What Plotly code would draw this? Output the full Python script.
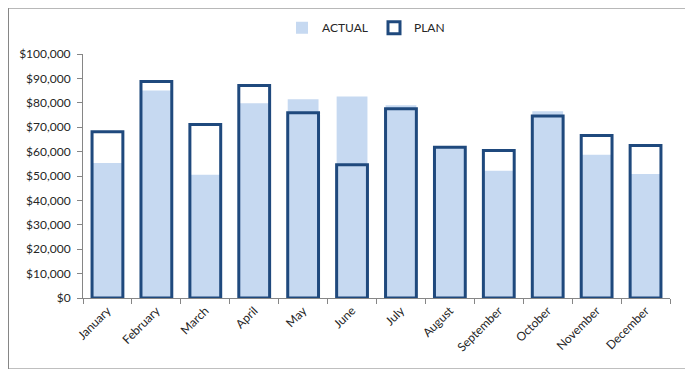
import plotly.graph_objects as go

months = ["January", "February", "March", "April", "May", "June", "July",
          "August", "September", "October", "November", "December"]
actual = [55300, 85000, 50500, 79800, 81500, 82600, 79000, 61500, 52200, 76500, 58700, 50800]
plan = [68100, 88700, 71100, 87100, 75900, 54600, 77600, 61800, 60400, 74600, 66600, 62500]
y_ticks = list(range(0, 100001, 10000))

# page has an 8px body margin; coordinates below are inside the figure
W, H = 678, 361
L, R, T, B = 75, 662, 46.3, 289.7
pw, ph = R - L, B - T

fig = go.Figure()
fig.add_trace(go.Bar(
    x=months, y=actual, name="ACTUAL", width=0.63,
    marker=dict(color="#C6D9F1", line=dict(width=0)),
))
fig.add_trace(go.Bar(
    x=months, y=plan, name="PLAN", width=0.63,
    marker=dict(color="rgba(0,0,0,0)", line=dict(color="#1F497D", width=3)),
))

fig.update_layout(
    width=W, height=H,
    margin=dict(l=L, r=W - R, t=T, b=H - B, autoexpand=False),
    barmode="overlay",
    paper_bgcolor="white", plot_bgcolor="white",
    font=dict(family="Lato, Open Sans, sans-serif", size=12, color="#262626"),
    legend=dict(orientation="h", x=(366 - L) / pw, xanchor="center",
                y=(B - 20) / ph, yanchor="middle",
                font=dict(size=12), itemwidth=30, entrywidth=47,
                traceorder="normal", bgcolor="rgba(0,0,0,0)"),
    xaxis=dict(showgrid=False, showline=True, linecolor="#868686", linewidth=1,
               ticks="outside", tickson="boundaries", ticklen=5, tickcolor="#868686",
               tickangle=-45, range=[-0.5, 11.5], fixedrange=True),
    yaxis=dict(showgrid=False, showline=True, linecolor="#868686", linewidth=1,
               ticks="outside", ticklen=5, tickcolor="#868686",
               range=[0, 100000], tickvals=y_ticks, tickformat="$,.0f",
               ticklabelstandoff=4,
               zeroline=False, fixedrange=True),
    shapes=[dict(type="rect", xref="paper", yref="paper",
                 x0=(0.5 - L) / pw, x1=(W - 0.5 - L) / pw,
                 y0=(B - (H - 0.5)) / ph, y1=(B - 0.5) / ph,
                 line=dict(color="#868686", width=1), fillcolor="rgba(0,0,0,0)",
                 layer="below")],
)

fig.write_html("out.html")
